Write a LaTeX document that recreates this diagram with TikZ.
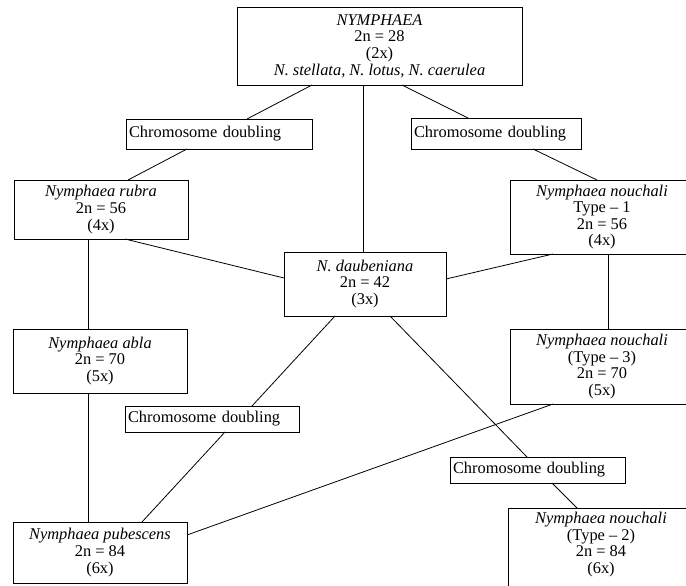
\documentclass[tikz,border=0pt]{standalone}
\usepackage{fontspec}
\setmainfont{Liberation Serif}
\newcommand{\bxfont}{\fontsize{16.4}{16.6}\selectfont}
\tikzset{
  box/.style={draw, line width=0.9pt, inner sep=2pt, outer sep=0pt, align=center, font=\bxfont},
  cdbox/.style={box, align=left, inner xsep=3pt, inner ysep=0pt},
  link/.style={line width=0.8pt}
}
\begin{document}
\begin{tikzpicture}[x=1pt, y=-1pt]
\clip (0,0) rectangle (686,586);
\fill[white] (0,0) rectangle (686,586);
% nodes
\node[box, minimum width=285pt, minimum height=78pt] (top) at (379.5,46)
  {\textit{NYMPHAEA}\\2n = 28\\(2x)\\\textit{N. stellata, N. lotus, N. caerulea}};
\node[cdbox, minimum width=186pt, minimum height=30pt, text width=180pt] (cdL) at (219,134) {Chromosome doubling};
\node[cdbox, minimum width=170pt, minimum height=31pt, text width=164pt] (cdR) at (496,133.5) {Chromosome doubling};
\node[box, minimum width=174pt, minimum height=59pt] (rubra) at (101,209.5)
  {\textit{Nymphaea rubra}\\2n = 56\\(4x)};
\node[box, minimum width=184pt, minimum height=74pt] (n1) at (602,217)
  {\textit{Nymphaea nouchali}\\Type -- 1\\2n = 56\\(4x)};
\node[box, minimum width=162pt, minimum height=64pt] (daub) at (365,284)
  {\textit{N. daubeniana}\\2n = 42\\(3x)};
\node[box, minimum width=174pt, minimum height=64pt] (abla) at (100,361)
  {\textit{Nymphaea abla}\\2n = 70\\(5x)};
\node[box, minimum width=184pt, minimum height=75pt] (n3) at (602,366.5)
  {\textit{Nymphaea nouchali}\\(Type -- 3)\\2n = 70\\(5x)};
\node[cdbox, minimum width=174pt, minimum height=26pt, text width=168pt] (cdBL) at (212,419) {Chromosome doubling};
\node[box, minimum width=174pt, minimum height=61pt] (pub) at (100,552.5)
  {\textit{Nymphaea pubescens}\\2n = 84\\(6x)};
\node[cdbox, minimum width=175pt, minimum height=26pt, text width=169pt] (cdBR) at (537.5,470) {Chromosome doubling};
\node[draw, line width=0.9pt, outer sep=0pt, minimum width=186pt, minimum height=84pt,
  label={[anchor=north, align=center, font=\bxfont, inner sep=0pt, yshift=-4pt]north:{\textit{Nymphaea nouchali}\\(Type -- 2)\\2n = 84\\(6x)}}] (n2) at (601,550) {};
% connectors
\draw[link] ([xshift=75pt]top.south west) -- ([xshift=121pt]cdL.north west);
\draw[link] ([xshift=126pt]top.south west) -- ([xshift=79pt]daub.north west);
\draw[link] ([xshift=165pt]top.south west) -- ([xshift=57pt]cdR.north west);
\draw[link] ([xshift=61pt]cdL.south west) -- ([xshift=114pt]rubra.north west);
\draw[link] ([xshift=122pt]cdR.south west) -- ([xshift=87pt]n1.north west);
\draw[link] ([xshift=74pt]rubra.south west) -- ([xshift=75pt]abla.north west);
\draw[link] ([xshift=111pt]rubra.south west) -- ([yshift=-26pt]daub.north west);
\draw[link] ([xshift=43pt]n1.south west) -- ([yshift=-27pt]daub.north east);
\draw[link] ([xshift=98pt]n1.south west) -- ([xshift=98pt]n3.north west);
\draw[link] ([xshift=51pt]daub.south west) -- ([xshift=127pt]cdBL.north west);
\draw[link] ([xshift=106pt]daub.south west) -- ([xshift=77pt]cdBR.north west);
\draw[link] ([xshift=75pt]abla.south west) -- ([xshift=75pt]pub.north west);
\draw[link] ([xshift=100pt]cdBL.south west) -- ([xshift=129pt]pub.north west);
\draw[link] ([xshift=43pt]n3.south west) -- ([yshift=-13pt]pub.north east);
\draw[link] ([xshift=102pt]cdBR.south west) -- ([xshift=69pt]n2.north west);
\end{tikzpicture}
\end{document}
